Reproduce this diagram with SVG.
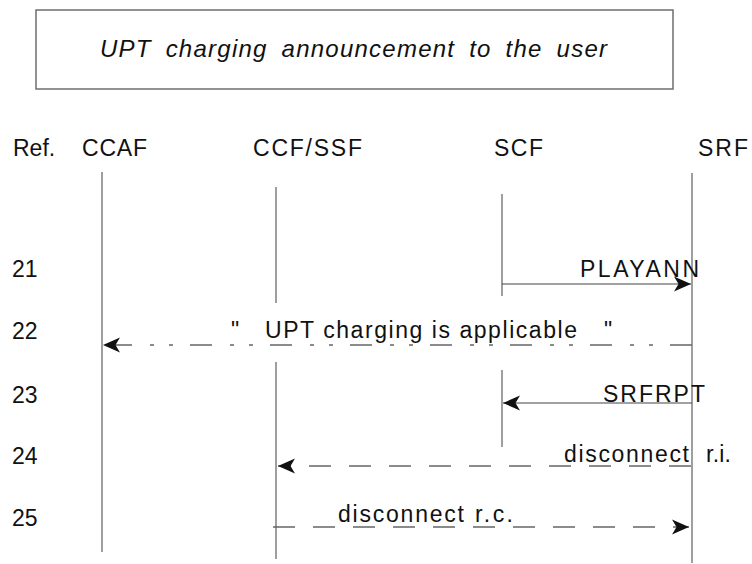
<svg xmlns="http://www.w3.org/2000/svg" width="752" height="564" viewBox="0 0 752 564">
<style>
text{font-family:"Liberation Sans",Arial,sans-serif;font-size:23px;fill:#111}
.title{font-style:italic;font-size:24px;word-spacing:6px}
.life{stroke:#767676;stroke-width:1.4;fill:none}
.msg{stroke:#444;stroke-width:1.2;fill:none}
.dash{stroke:#666;stroke-width:1.3;fill:none;stroke-dasharray:22 18}
.dashdot{stroke:#666;stroke-width:1.3;fill:none;stroke-dasharray:22 17 4 15 4 18}
</style>
<defs>
<marker id="ah" viewBox="-19 -9 21 18" refX="0" refY="0" markerWidth="21" markerHeight="18" markerUnits="userSpaceOnUse" orient="auto">
<path d="M0,0 L-17,-7.5 L-12.5,0 L-17,7.5 Z" fill="#111"/>
</marker>
</defs>
<g id="title">
<rect x="36" y="10" width="637" height="79" fill="none" stroke="#6e6e6e" stroke-width="1.5"/>
<text class="title" x="100" y="57" textLength="507" lengthAdjust="spacing">UPT charging announcement to the user</text>
</g>
<g id="header">
<text x="13" y="156">Ref.</text>
<text x="82" y="156" textLength="65" lengthAdjust="spacing">CCAF</text>
<text x="253" y="156" textLength="109" lengthAdjust="spacing">CCF/SSF</text>
<text x="494" y="156" textLength="49" lengthAdjust="spacing">SCF</text>
<text x="698" y="156" textLength="50" lengthAdjust="spacing">SRF</text>
</g>
<g id="refs">
<text x="12" y="277">21</text>
<text x="12" y="339">22</text>
<text x="12" y="403">23</text>
<text x="12" y="464">24</text>
<text x="12" y="526">25</text>
</g>
<g id="CCAF"><line class="life" x1="102" y1="172" x2="102" y2="552"/></g>
<g id="CCF_SSF">
<line class="life" x1="276" y1="187" x2="276" y2="303"/>
<line class="life" x1="276" y1="362" x2="276" y2="559"/>
</g>
<g id="SCF">
<line class="life" x1="502" y1="194" x2="502" y2="296"/>
<line class="life" x1="502" y1="370" x2="502" y2="447"/>
</g>
<g id="SRF"><line class="life" x1="692" y1="173" x2="692" y2="563"/></g>
<g id="connectors">
<line class="msg" x1="502" y1="284" x2="691" y2="284" marker-end="url(#ah)"/>
<text x="580" y="277" textLength="119" lengthAdjust="spacing">PLAYANN</text>
<line class="dashdot" x1="692" y1="345" x2="103" y2="345" marker-end="url(#ah)"/>
<text x="231" y="338">"</text>
<text x="265" y="338" textLength="312" lengthAdjust="spacing">UPT  charging is applicable</text>
<text x="604" y="338">"</text>
<line class="msg" x1="692" y1="403" x2="503" y2="403" marker-end="url(#ah)"/>
<text x="603" y="402" textLength="102" lengthAdjust="spacing">SRFRPT</text>
<line class="dash" x1="691" y1="466" x2="278" y2="466" marker-end="url(#ah)"/>
<text x="564" y="462" textLength="125" lengthAdjust="spacing">disconnect</text>
<text x="706" y="462" textLength="25" lengthAdjust="spacing">r.i.</text>
<line class="dash" x1="273" y1="527" x2="689" y2="527" marker-end="url(#ah)"/>
<text x="338" y="522" textLength="126" lengthAdjust="spacing">disconnect</text>
<text x="475" y="522" textLength="38" lengthAdjust="spacing">r.c.</text>
</g>
</svg>
